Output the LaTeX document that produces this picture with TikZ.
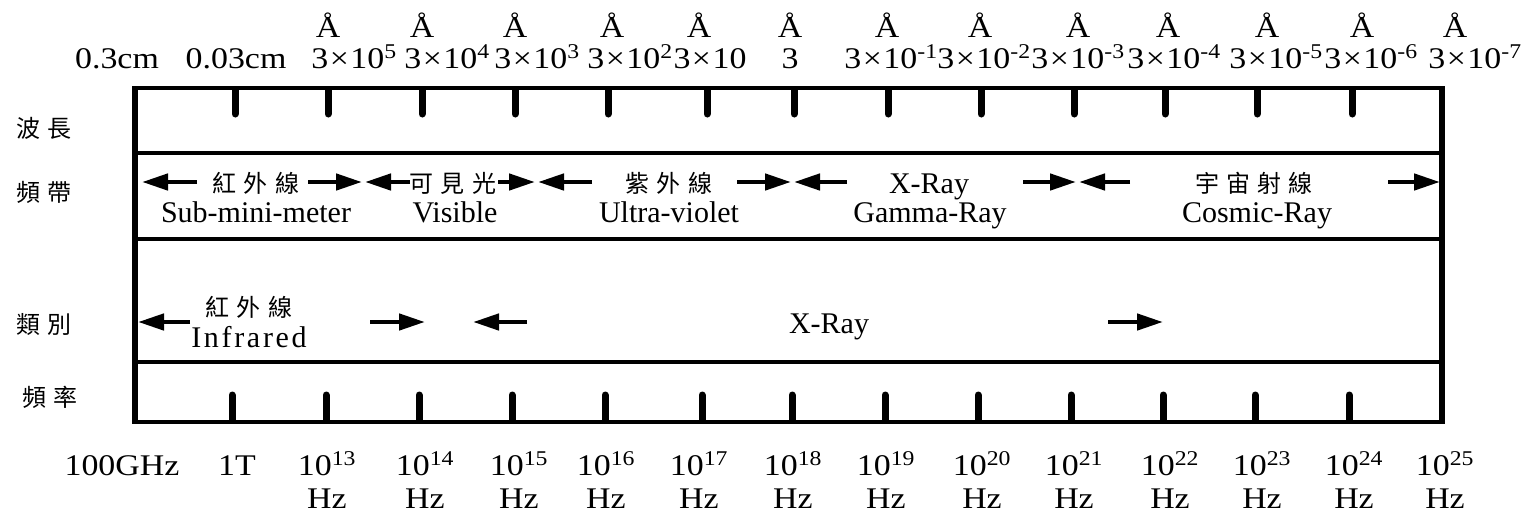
\documentclass[tikz,border=0pt]{standalone}
\usepackage{fontspec}
\setmainfont{Liberation Serif}
\newfontfamily\axisfont[FakeStretch=1.13]{Liberation Serif}
\newfontfamily\spacedfont[LetterSpace=9]{Liberation Serif}
\newfontfamily\cjkfont[LetterSpace=30]{Noto Sans CJK TC}
\usetikzlibrary{arrows.meta}
\newcommand\tms{\hspace{1.5pt}×\hspace{1.5pt}}

\begin{document}
\begin{tikzpicture}[x=1pt,y=-1pt,
  frame/.style={line width=4pt},
  edge/.style={line width=6pt},
  tickmark/.style={line width=7pt, line cap=round},
  bandarrow/.style={line width=4.5pt, -{Triangle[length=26pt,width=16pt]}},
  cjk/.style={font=\cjkfont\fontsize{24}{28}\selectfont, inner sep=0pt},
  band/.style={font=\fontsize{30}{34}\selectfont, inner sep=0pt, anchor=base},
  axis/.style={font=\axisfont\fontsize{30}{34}\selectfont, inner sep=0pt, anchor=base},
]
\fill[white] (0,0) rectangle (1530,517);
\useasboundingbox (0,0) rectangle (1530,517);

% horizontal rules of the chart
\foreach \y in {88,153,239,362,422}
  \draw[frame] (135,\y) -- (1442,\y);
% outer verticals
\draw[edge] (135,86) -- (135,424);
\draw[edge] (1442,86) -- (1442,424);

% wavelength ticks
\foreach \x in {235,328,422,515,608,707,794,888,981,1074,1165,1257,1352}
  \draw[tickmark] (\x,90) -- (\x,114);
% frequency ticks
\foreach \x in {232,326,419,512,605,702,792,885,978,1071,1163,1255,1349}
  \draw[tickmark] (\x,395) -- (\x,420);

% wavelength labels
\foreach \x [count=\i] in {328,422,515,612,699,790,887,980,1078,1168,1267,1362,1455}
  \node[axis] (ang\i) at (\x,37) {Å};
\foreach \x/\t [count=\i] in {117/0.3cm, 236/0.03cm,
    354/3\tms 10\textsuperscript{5}, 447/3\tms 10\textsuperscript{4},
    537/3\tms 10\textsuperscript{3}, 630/3\tms 10\textsuperscript{2},
    710/3\tms 10, 790/3,
    891/3\tms 10\textsuperscript{-1}, 984/3\tms 10\textsuperscript{-2},
    1078/3\tms 10\textsuperscript{-3}, 1174/3\tms 10\textsuperscript{-4},
    1276/3\tms 10\textsuperscript{-5}, 1371/3\tms 10\textsuperscript{-6},
    1475/3\tms 10\textsuperscript{-7}}
  \node[axis] (wl\i) at (\x,68) {\t};

% frequency labels
\node[axis] (f0) at (122,475) {100GHz};
\node[axis] (f1) at (237,475) {1T};
\foreach \x/\e [count=\i] in {327/13,425/14,519/15,606/16,699/17,793/18,886/19,
    982/20,1074/21,1170/22,1262/23,1354/24,1445/25}{
  \node[axis] (fp\i) at (\x,475) {10\textsuperscript{\e}};
  \node[axis] (fu\i) at (\x,508) {Hz};
}

% row titles
\node[cjk] (lblWave) at (44,128) {波長};
\node[cjk] (lblBand) at (44,192) {頻帶};
\node[cjk] (lblKind) at (44,324) {類別};
\node[cjk] (lblFreq) at (50,397) {頻率};

% band row
\node[cjk] (irB) at (256,183) {紅外線};
\node[cjk] (visB) at (453,183) {可見光};
\node[cjk] (uvB) at (669,183) {紫外線};
\node[band] (xrB) at (929,193) {X-Ray};
\node[cjk] (crB) at (1254,183) {宇宙射線};
\node[band] (smm) at (256,222) {Sub-mini-meter};
\node[band] (visE) at (455,222) {Visible};
\node[band] (uvE) at (669,222) {Ultra-violet};
\node[band] (gam) at (930,222) {Gamma-Ray};
\node[band] (cos) at (1257,222) {Cosmic-Ray};

\draw[bandarrow] (197,182) -- (142,182);
\draw[bandarrow] (308,182) -- (362,182);
\draw[bandarrow] (410,182) -- (365,182);
\draw[bandarrow] (498,182) -- (535,182);
\draw[bandarrow] (592,182) -- (538,182);
\draw[bandarrow] (737,182) -- (791,182);
\draw[bandarrow] (847,182) -- (794,182);
\draw[bandarrow] (1023,182) -- (1076,182);
\draw[bandarrow] (1130,182) -- (1079,182);
\draw[bandarrow] (1388,182) -- (1440,182);

% category row
\node[cjk] (irC) at (249,307) {紅外線};
\node[band, font=\spacedfont\fontsize{30}{34}\selectfont] (infr) at (249,347) {Infrared};
\node[band] (xrC) at (829,333) {X-Ray};

\draw[bandarrow] (190,322) -- (138,322);
\draw[bandarrow] (370,322) -- (425,322);
\draw[bandarrow] (527,322) -- (473,322);
\draw[bandarrow] (1108,322) -- (1163,322);
\end{tikzpicture}
\end{document}
